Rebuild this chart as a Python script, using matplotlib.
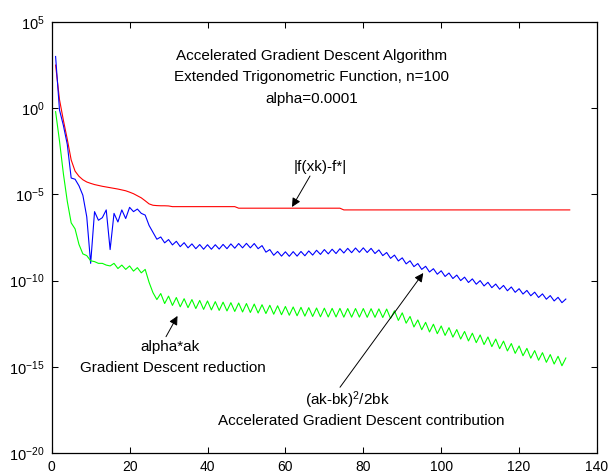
import matplotlib
matplotlib.use('Agg')
import matplotlib.pyplot as plt
import numpy as np
from matplotlib.ticker import NullLocator

plt.rcParams['font.family'] = ['Liberation Sans', 'DejaVu Sans']
plt.rcParams['mathtext.fontset'] = 'custom'
plt.rcParams['mathtext.rm'] = 'Liberation Sans'
plt.rcParams['mathtext.default'] = 'regular'

## DATA (log10 of each quantity, iteration k = 1, 2, ...)
# |f(xk)-f*|
red_log = [2.5, 0.5, -0.7, -1.8, -3.0, -3.65, -3.95, -4.15, -4.28, -4.36,
           -4.43, -4.48, -4.53, -4.57, -4.61, -4.65, -4.69, -4.74, -4.79, -4.87,
           -4.96, -5.08, -5.2, -5.37, -5.55, -5.63, -5.65, -5.66, -5.66, -5.67,
           -5.71, -5.71, -5.71, -5.71, -5.71, -5.71, -5.71, -5.71, -5.71, -5.71,
           -5.71, -5.71, -5.71, -5.71, -5.71, -5.71, -5.71,
           -5.8, -5.8, -5.8, -5.8, -5.8, -5.8, -5.8, -5.8, -5.8, -5.8,
           -5.8, -5.8, -5.8, -5.8, -5.8, -5.8, -5.8, -5.8, -5.8, -5.8,
           -5.8, -5.8, -5.8, -5.8, -5.8, -5.8, -5.8,
           -5.9, -5.9, -5.9, -5.9, -5.9, -5.9, -5.9, -5.9, -5.9, -5.9,
           -5.9, -5.9, -5.9, -5.9, -5.9, -5.9, -5.9, -5.9, -5.9, -5.9,
           -5.9, -5.9, -5.9, -5.9, -5.9, -5.9, -5.9, -5.9, -5.9, -5.9,
           -5.9, -5.9, -5.9, -5.9, -5.9, -5.9, -5.9, -5.9, -5.9, -5.9,
           -5.9, -5.9, -5.9, -5.9, -5.9, -5.9, -5.9, -5.9, -5.9, -5.9,
           -5.9, -5.9, -5.9, -5.9, -5.9, -5.9, -5.9, -5.9, -5.9]

# (ak-bk)^2/2bk
blue_log = [3.0, -0.1, -1.0, -2.1, -4.05, -4.12, -4.5, -5.05, -6.3, -9.0,
            -6.0, -6.5, -6.35, -5.9, -8.2, -6.1, -6.6, -5.9, -6.4, -5.75,
            -6.0, -5.85, -6.1, -6.2, -6.8, -7.2, -7.6, -7.47, -7.81, -7.62,
            -7.93, -7.72, -8.03, -7.8, -8.1, -7.87, -8.15, -7.91, -8.18, -7.92,
            -8.18, -7.92, -8.17, -7.9, -8.15, -7.87, -8.12, -7.85, -8.1, -7.84,
            -8.1, -7.85, -8.15, -7.97, -8.35, -8.2, -8.53, -8.31, -8.58, -8.33,
            -8.59, -8.32, -8.58, -8.31, -8.56, -8.28, -8.52, -8.24, -8.48, -8.2,
            -8.45, -8.18, -8.43, -8.15, -8.4, -8.13, -8.38, -8.11, -8.36, -8.1,
            -8.37, -8.13, -8.43, -8.22, -8.55, -8.37, -8.71, -8.52, -8.86, -8.68,
            -9.03, -8.85, -9.19, -9.01, -9.35, -9.17, -9.5, -9.31, -9.63, -9.43,
            -9.76, -9.56, -9.88, -9.68, -10.0, -9.8, -10.11, -9.9, -10.21, -10.0,
            -10.31, -10.1, -10.41, -10.2, -10.5, -10.28, -10.59, -10.37, -10.68, -10.47,
            -10.78, -10.57, -10.88, -10.67, -10.98, -10.77, -11.08, -10.87, -11.18, -10.97,
            -11.28, -11.07]

# alpha*ak
green_log = [-0.2, -1.9, -3.8, -5.4, -6.65, -7.0, -7.9, -8.45, -8.55, -8.85,
             -8.9, -9.0, -9.0, -9.1, -9.15, -9.0, -9.3, -9.1, -9.35, -9.15,
             -9.45, -9.25, -9.55, -9.35, -10.1, -10.7, -11.1, -10.75, -11.33, -10.9,
             -11.44, -10.98, -11.52, -11.05, -11.57, -11.1, -11.62, -11.15, -11.67, -11.18,
             -11.7, -11.22, -11.73, -11.25, -11.76, -11.28, -11.79, -11.3, -11.82, -11.33,
             -11.85, -11.36, -11.88, -11.4, -11.91, -11.43, -11.95, -11.46, -11.98, -11.5,
             -12.01, -11.53, -12.04, -11.55, -12.06, -11.57, -12.08, -11.59, -12.1, -11.6,
             -12.11, -11.61, -12.11, -11.61, -12.12, -11.62, -12.12, -11.62, -12.12, -11.62,
             -12.13, -11.63, -12.13, -11.64, -12.14, -11.65, -12.2, -11.75, -12.31, -11.87,
             -12.47, -12.08, -12.69, -12.28, -12.85, -12.42, -12.98, -12.53, -13.08, -12.63,
             -13.18, -12.73, -13.28, -12.84, -13.39, -12.95, -13.5, -13.05, -13.6, -13.15,
             -13.71, -13.27, -13.83, -13.39, -13.95, -13.51, -14.08, -13.65, -14.22, -13.79,
             -14.36, -13.93, -14.5, -14.06, -14.62, -14.18, -14.74, -14.29, -14.84, -14.39,
             -14.94, -14.49]

x_ticks = [0, 20, 40, 60, 80, 100, 120, 140]
y_tick_powers = [-20, -15, -10, -5, 0, 5]

title_lines = ["Accelerated Gradient Descent Algorithm",
               "Extended Trigonometric Function, n=100",
               "alpha=0.0001"]

## PLOTTING
fig = plt.figure(figsize=(6.08, 4.75), dpi=100)
ax = fig.add_axes([51.7/608, 22/475, 545.3/608, 431/475])

k_red = np.arange(1, len(red_log) + 1)
k_blue = np.arange(1, len(blue_log) + 1)
k_green = np.arange(1, len(green_log) + 1)
ax.semilogy(k_red, 10.0**np.array(red_log), color='#ff0000', lw=0.8)
ax.semilogy(k_blue, 10.0**np.array(blue_log), color='#0000ff', lw=0.8)
ax.semilogy(k_green, 10.0**np.array(green_log), color='#00ff00', lw=0.8)

ax.set_xlim(0, 140)
ax.set_ylim(1e-20, 1e5)
ax.set_xticks(x_ticks)
ax.set_yticks([10.0**p for p in y_tick_powers])
ax.yaxis.set_minor_locator(NullLocator())
ax.tick_params(direction='in', top=True, right=True, length=4, width=0.75,
               labelsize=10.5, pad=5)
ax.tick_params(axis='x', labelsize=10)
for sp in ax.spines.values():
    sp.set_linewidth(0.9)

# title block inside the axes
for txt, yf in zip(title_lines, [0.922, 0.873, 0.821]):
    ax.text(0.477, yf, txt, transform=ax.transAxes, ha='center', va='center', fontsize=11)

arrow = dict(arrowstyle='-|>', color='k', lw=0.7, mutation_scale=13, shrinkA=0, shrinkB=0)

ax.text(0.492, 0.664, "|f(xk)-f*|", transform=ax.transAxes, ha='center', va='center', fontsize=11)
ax.annotate('', xy=(61.7, 10**-5.73), xytext=(0.4737, 0.6427),
            textcoords='axes fraction', arrowprops=arrow)

ax.text(0.217, 0.2466, "alpha*ak", transform=ax.transAxes, ha='center', va='center', fontsize=11)
ax.text(0.2215, 0.1965, "Gradient Descent reduction", transform=ax.transAxes,
        ha='center', va='center', fontsize=11)
ax.annotate('', xy=(32.3, 10**-12.05), xytext=(0.2096, 0.2698),
            textcoords='axes fraction', arrowprops=arrow)

ax.text(0.5415, 0.123, "(ak-bk)$^2$/2bk", transform=ax.transAxes, ha='center', va='center', fontsize=11)
ax.text(0.568, 0.075, "Accelerated Gradient Descent contribution", transform=ax.transAxes,
        ha='center', va='center', fontsize=11)
ax.annotate('', xy=(95.4, 10**-9.56), xytext=(0.5287, 0.1525),
            textcoords='axes fraction', arrowprops=arrow)

fig.savefig('out.png', dpi=100)
print("Done")
